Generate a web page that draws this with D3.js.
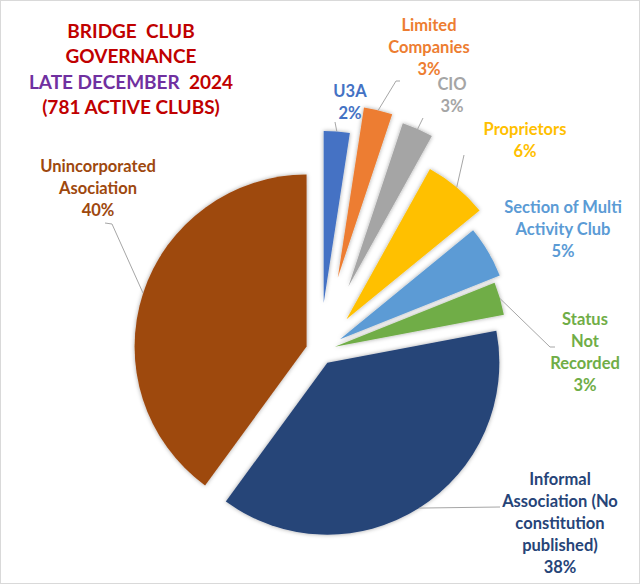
<!DOCTYPE html>
<html>
<head>
<meta charset="utf-8">
<script src="https://cdn.jsdelivr.net/npm/d3@7"></script>
<style>
  html, body { margin: 0; padding: 0; background: #fff; }
  svg { display: block; }
  text { font-family: Lato, "Open Sans", sans-serif; font-weight: bold; white-space: pre; }
</style>
</head>
<body>
<svg id="chart" width="640" height="584"></svg>
<script>
// ---- data ----
const categories = [
  "U3A",
  "Limited\nCompanies",
  "CIO",
  "Proprietors",
  "Section of Multi\nActivity Club",
  "Status\nNot\nRecorded",
  "Informal\nAssociation (No\nconstitution\npublished)",
  "Unincorporated\nAsociation"
];
const clubCounts = [19, 21, 23, 47, 38, 24, 297, 312];
const titleLines = [
  [["BRIDGE  CLUB", "#C00000"]],
  [["GOVERNANCE", "#C00000"]],
  [["LATE DECEMBER  ", "#7030A0"], ["2024", "#C00000"]],
  [["(781 ACTIVE CLUBS)", "#C00000"]]
];

// ---- styles / layout ----
const colors = ["#4472C4", "#ED7D31", "#A5A5A5", "#FFC000", "#5B9BD5", "#70AD47", "#264478", "#9E480E"];
const explodeFrac = [0.28, 0.44, 0.41, 0.24, 0.135, 0.09, 0.08, 0.082];
const labelPos = [ // x center, first baseline, leader start points
  {x: 350, y: 97,  leader: [[335, 122]]},
  {x: 429, y: 31,  leader: [[400, 81], [396, 81]]},
  {x: 452, y: 90,  leader: [[423, 118]]},
  {x: 525, y: 135, leader: [[464, 155]]},
  {x: 563, y: 213, leader: null},
  {x: 585, y: 325, leader: [[555, 347], [550, 347]]},
  {x: 560, y: 485, leader: [[500, 507]]},
  {x: 98,  y: 172, leader: [[105, 223], [112, 224]]}
];
const W = 640, H = 584;
const cx = 320, cy = 351, R = 172;
const lineH = 22;

const svg = d3.select("#chart");

const defs = svg.append("defs");
const f = defs.append("filter").attr("id", "shadow")
  .attr("x", "-20%").attr("y", "-20%").attr("width", "140%").attr("height", "140%");
f.append("feDropShadow").attr("dx", 0).attr("dy", 0).attr("stdDeviation", 2)
  .attr("flood-color", "#000").attr("flood-opacity", 0.35);

svg.append("rect").attr("x", 0.5).attr("y", 0.5).attr("width", W - 1).attr("height", H - 1)
  .attr("fill", "#fff").attr("stroke", "#d9d9d9");

const total = d3.sum(clubCounts);
const data = categories.map((c, i) => ({name: c, value: clubCounts[i], color: colors[i], ex: explodeFrac[i] * R, lab: labelPos[i]}));

const pie = d3.pie().value(d => d.value).sort(null).startAngle(0).endAngle(2 * Math.PI);
const arc = d3.arc().innerRadius(0).outerRadius(R);
const arcs = pie(data);

const g = svg.append("g").attr("transform", `translate(${cx},${cy})`);

arcs.forEach(a => {
  const mid = (a.startAngle + a.endAngle) / 2;
  a.ox = a.data.ex * Math.sin(mid);
  a.oy = -a.data.ex * Math.cos(mid);
  a.mid = mid;
});

g.selectAll("path.slice").data(arcs).join("path")
  .attr("class", "slice")
  .attr("d", arc)
  .attr("transform", d => `translate(${d.ox},${d.oy})`)
  .attr("fill", d => d.data.color)
  .attr("filter", "url(#shadow)");

// leader lines
arcs.forEach(a => {
  if (!a.data.lab.leader) return;
  const end = [cx + a.ox + R * Math.sin(a.mid), cy + a.oy - R * Math.cos(a.mid)];
  const pts = a.data.lab.leader.concat([end]);
  svg.append("path")
    .attr("d", d3.line()(pts))
    .attr("fill", "none").attr("stroke", "#A6A6A6").attr("stroke-width", 1);
});

// labels
const fmt = v => Math.round(v / total * 100) + "%";
arcs.forEach(a => {
  const lines = a.data.name.split("\n").concat([fmt(a.data.value)]);
  const t = svg.append("text")
    .attr("text-anchor", "middle")
    .attr("fill", a.data.color)
    .attr("font-size", 16.5);
  lines.forEach((ln, i) => {
    t.append("tspan").attr("x", a.data.lab.x).attr("y", a.data.lab.y + i * lineH).text(ln);
  });
});

// title
const title = svg.append("text").attr("text-anchor", "middle").attr("font-size", 19);
titleLines.forEach((parts, i) => {
  const ts = title.append("tspan").attr("x", 131).attr("y", 38 + i * 25.3);
  parts.forEach((p, j) => {
    const s = j === 0 ? ts : title.append("tspan");
    s.text(p[0]).attr("fill", p[1]);
  });
});
</script>
</body>
</html>
